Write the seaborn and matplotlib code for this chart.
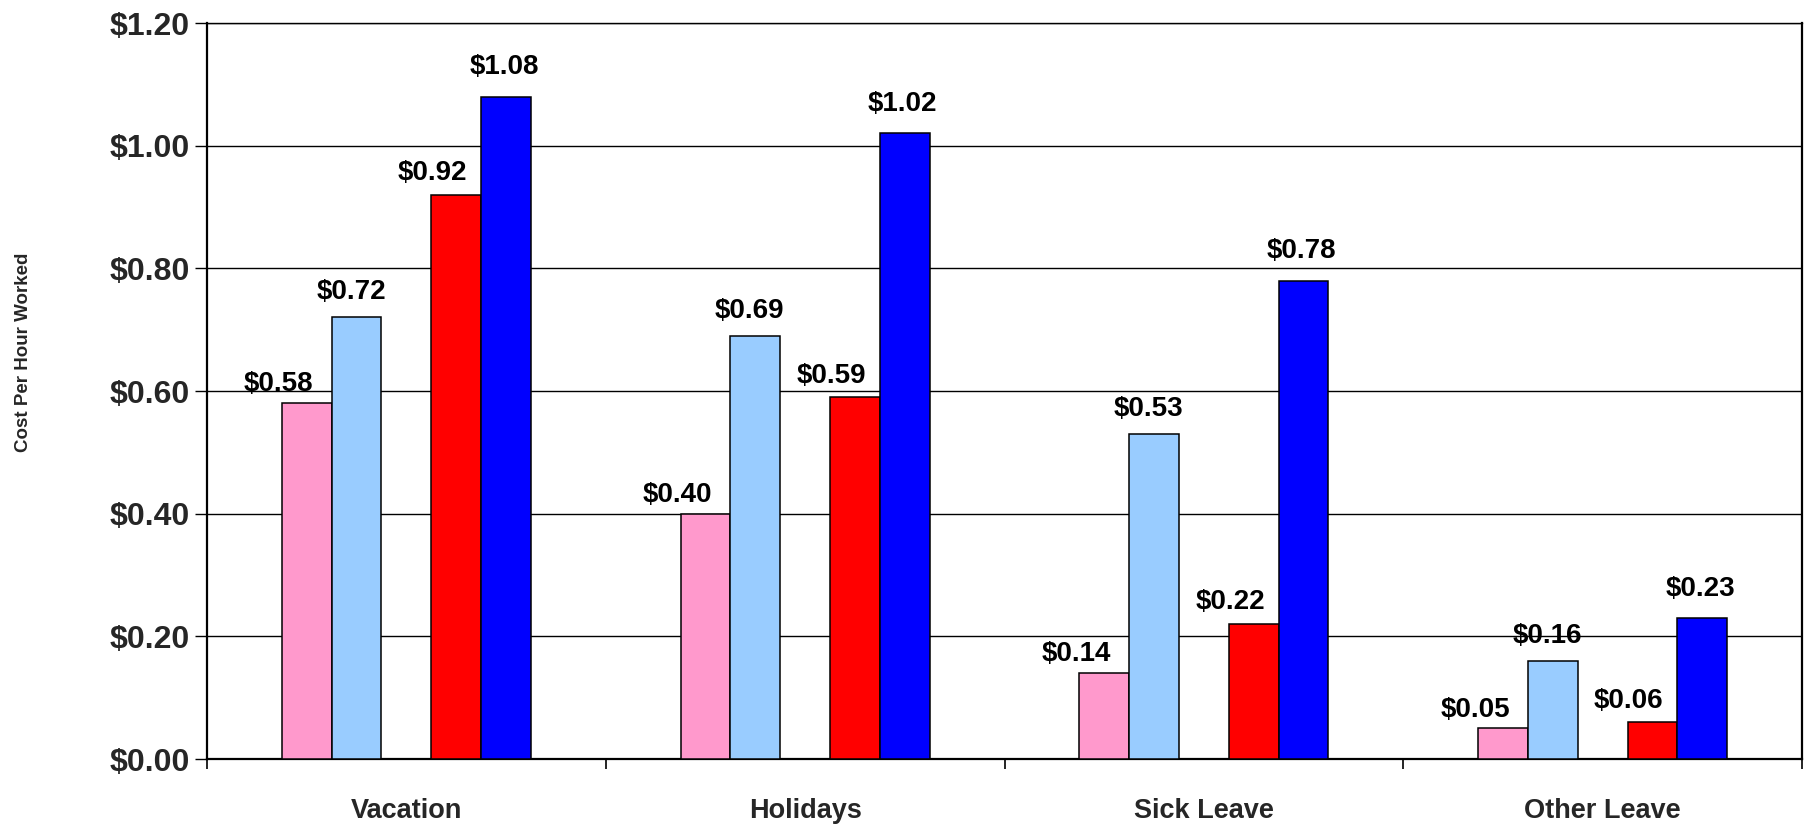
import matplotlib
matplotlib.use("Agg")
import matplotlib.pyplot as plt
import matplotlib.colors as mcolors
import seaborn as sns
import pandas as pd
from matplotlib.ticker import FixedLocator

# ---- data ----
categories = ["Vacation", "Holidays", "Sick Leave", "Other Leave"]
series_names = ["Series 1", "Series 2", "Series 3", "Series 4"]
series1 = [0.58, 0.40, 0.14, 0.05]   # pink
series2 = [0.72, 0.69, 0.53, 0.16]   # light blue
series3 = [0.92, 0.59, 0.22, 0.06]   # red
series4 = [1.08, 1.02, 0.78, 0.23]   # blue
ytick_values = [0.0, 0.2, 0.4, 0.6, 0.8, 1.0, 1.2]
ytick_labels = ["$0.00", "$0.20", "$0.40", "$0.60", "$0.80", "$1.00", "$1.20"]
y_title = "Cost Per Hour Worked"

rows = []
for name, vals in zip(series_names, [series1, series2, series3, series4]):
    for c, v in zip(categories, vals):
        rows.append({"category": c, "series": name, "value": v})
df = pd.DataFrame(rows)

GAP = " "  # empty slot between the two pairs
hue_order = [series_names[0], series_names[1], GAP, series_names[2], series_names[3]]
colors = ["#FF99CC", "#99CCFF", "#FF0000", "#0000FF"]
palette = {series_names[0]: colors[0], series_names[1]: colors[1], GAP: "#FFFFFF",
           series_names[2]: colors[2], series_names[3]: colors[3]}
# nudge of the value labels (points), per series, as in the original
label_dx = [-20, -4, -17, -1.5]
label_dy = [8.5, 13, 10.5, 16]

sns.set_theme(style="white")
plt.rcParams["font.family"] = ["Liberation Sans", "DejaVu Sans"]
plt.rcParams["font.weight"] = "bold"

fig = plt.figure(figsize=(18.04, 8.32), dpi=100)
ax = fig.add_axes([207 / 1804, 1 - 759 / 832, (1802 - 207) / 1804, (759 - 23) / 832])

sns.barplot(data=df, x="category", y="value", hue="series", hue_order=hue_order,
            order=categories, palette=palette, width=0.625, gap=0, dodge=True,
            edgecolor="black", linewidth=1.1, errorbar=None, legend=False,
            saturation=1, ax=ax, zorder=3)

ax.set_xlim(-0.5, len(categories) - 0.5)
ax.set_ylim(0, 1.2)
ax.set_axisbelow(True)
ax.yaxis.grid(True, color="black", linewidth=1.0)
ax.xaxis.grid(False)

ax.set_yticks(ytick_values)
ax.set_yticklabels(ytick_labels, fontsize=23, fontweight="bold")
ax.tick_params(axis="y", which="major", direction="out", length=8.5, width=1.0,
               color="black", pad=4, left=True)

ax.set_xticks(range(len(categories)))
ax.set_xticklabels(categories, fontsize=19.5, fontweight="bold")
ax.tick_params(axis="x", which="major", length=0, pad=28)
ax.xaxis.set_minor_locator(FixedLocator([i - 0.5 for i in range(len(categories) + 1)]))
ax.tick_params(axis="x", which="minor", direction="out", length=7.5, width=1.2,
               color="black", bottom=True)

ax.set_xlabel("")
ax.set_ylabel("")
for side in ["left", "bottom", "right"]:
    ax.spines[side].set_visible(True)
    ax.spines[side].set_color("black")
    ax.spines[side].set_linewidth(1.6)
ax.spines["top"].set_visible(True)
ax.spines["top"].set_color("black")
ax.spines["top"].set_linewidth(1.0)

# data labels: match each bar to its series by fill colour
rgb_series = [mcolors.to_rgb(c) for c in colors]
for patch in ax.patches:
    fc = tuple(patch.get_facecolor()[:3])
    idx = None
    for i, rc in enumerate(rgb_series):
        if all(abs(a - b) < 0.01 for a, b in zip(fc, rc)):
            idx = i
            break
    if idx is None:
        continue
    h = patch.get_height()
    if not (h == h) or h <= 0:
        continue
    x = patch.get_x() + patch.get_width() / 2
    ax.annotate(f"${h:.2f}", xy=(x, h), xytext=(label_dx[idx], label_dy[idx]),
                textcoords="offset points", ha="center", va="baseline",
                fontsize=20, fontweight="bold", color="black", zorder=5)

fig.text(24 / 1804, 1 - 352 / 832, y_title, rotation=90, ha="center", va="center",
         fontsize=13.5, fontweight="bold")

fig.savefig("out.png", dpi=100)
